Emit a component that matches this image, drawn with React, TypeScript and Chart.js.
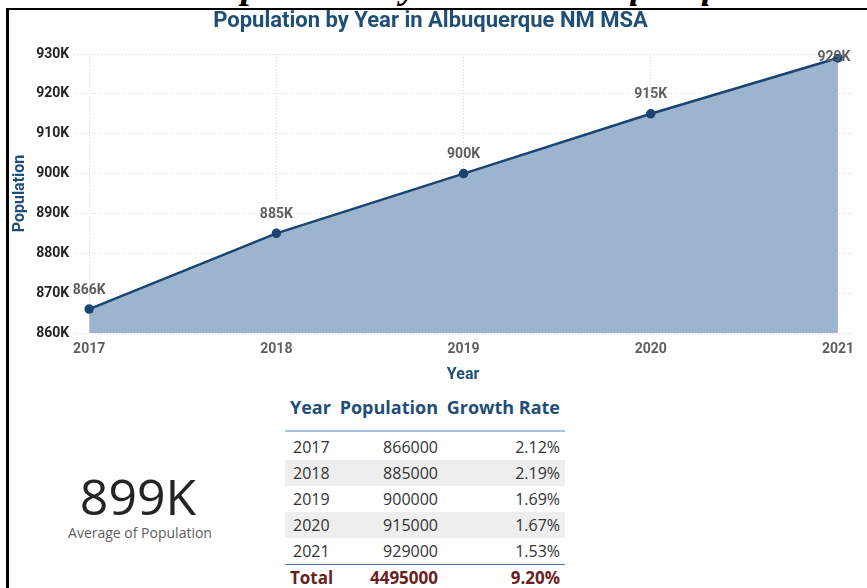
import React, { useEffect, useRef } from "react";
import { Chart, registerables } from "chart.js";

Chart.register(...registerables);

const years = [2017, 2018, 2019, 2020, 2021];
const population = [866000, 885000, 900000, 915000, 929000];
const pointLabels = ["866K", "885K", "900K", "915K", "929K"];
const populationText = ["866000", "885000", "900000", "915000", "929000"];
const growthRates = ["2.12%", "2.19%", "1.69%", "1.67%", "1.53%"];
const totalPopulation = "4495000";
const totalGrowth = "9.20%";
const averageValue = "899K";
const averageLabel = "Average of Population";
const tableHeaders = ["Year", "Population", "Growth Rate"];
const chartTitle = "Population by Year in Albuquerque NM MSA";
const pageTitle = "Population by Year in Albuquerque";

const BLUE = "#1f4e79";
const LINE = "#1a4472";
const FILL = "#9db4cf";

const dataLabels = {
  id: "dataLabels",
  afterDatasetsDraw(chart: any) {
    const ctx = chart.ctx;
    const meta = chart.getDatasetMeta(0);
    const top = chart.chartArea.top;
    ctx.save();
    ctx.font = "bold 14px Roboto";
    ctx.fillStyle = "#5f5f5f";
    ctx.textAlign = "center";
    ctx.textBaseline = "middle";
    meta.data.forEach((pt: any, i: number) => {
      const y = Math.max(pt.y - 19, top + 3);
      ctx.fillText(pointLabels[i], pt.x - (i === years.length - 1 ? 4 : 0), y);
    });
    ctx.restore();
  },
};

function PopChart() {
  const ref = useRef<HTMLCanvasElement>(null);
  useEffect(() => {
    if (!ref.current) return;
    const chart = new Chart(ref.current, {
      type: "line",
      data: {
        datasets: [
          {
            data: years.map((y, i) => ({ x: y, y: population[i] })),
            borderColor: LINE,
            borderWidth: 2.5,
            backgroundColor: FILL,
            fill: "start",
            pointRadius: 3.5,
            pointBackgroundColor: LINE,
            pointBorderColor: LINE,
            tension: 0,
          },
        ],
      },
      options: {
        animation: false,
        responsive: false,
        layout: { padding: { left: 0, right: 15, top: 0, bottom: 0 } },
        plugins: {
          legend: { display: false },
          tooltip: { enabled: false },
          title: {
            display: true,
            text: chartTitle,
            color: BLUE,
            font: { family: "Roboto", size: 22, weight: "bold", lineHeight: 1 },
            padding: { top: 0, bottom: 22 },
          },
        },
        scales: {
          x: {
            type: "linear",
            min: 2016.92,
            max: 2021.075,
            afterBuildTicks: (axis: any) => {
              axis.ticks = years.map((v) => ({ value: v }));
            },
            ticks: {
              callback: (v: any) => String(v),
              color: "#5f5f5f",
              font: { family: "Roboto", size: 14, weight: "bold" },
              padding: 8,
              maxRotation: 0,
              autoSkip: false,
            },
            grid: { color: "#d6d6d6", drawTicks: false, lineWidth: 1 },
            border: { display: false, dash: [1, 2] },
            title: {
              display: true,
              text: "Year",
              color: BLUE,
              font: { family: "Roboto", size: 16, weight: "bold" },
              padding: { top: 0, bottom: 1 },
            },
          },
          y: {
            min: 860000,
            max: 930000,
            ticks: {
              stepSize: 10000,
              callback: (v: any) => Math.round(v / 1000) + "K",
              color: "#252423",
              font: { family: "Roboto", size: 14, weight: "bold" },
              padding: 5,
            },
            grid: { color: "#d6d6d6", drawTicks: false, lineWidth: 1 },
            border: { display: false, dash: [1, 2] },
            title: {
              display: true,
              text: "Population",
              color: BLUE,
              font: { family: "Roboto", size: 16, weight: "bold" },
              padding: { top: 1, bottom: 2 },
            },
          },
        },
      } as any,
      plugins: [dataLabels],
    });
    return () => chart.destroy();
  }, []);
  return (
    <canvas
      ref={ref}
      width={858}
      height={376}
      style={{ position: "absolute", left: 9, top: 10, width: 858, height: 376 }}
    />
  );
}

const cellFont = "'Open Sans', 'Noto Sans', sans-serif";

export default function App() {
  const rowTop0 = 434;
  const rowH = 26;
  return (
    <div
      style={{
        position: "fixed",
        left: 0,
        top: 0,
        width: 867,
        height: 588,
        background: "#fff",
        overflow: "hidden",
      }}
    >
      <svg
        width={867}
        height={8}
        style={{ position: "absolute", left: 0, top: 0, overflow: "hidden" }}
      >
        <text
          x={199}
          y={-2}
          fontFamily="'Liberation Serif', serif"
          fontStyle="italic"
          fontWeight="bold"
          fontSize={38}
          fill="#000"
        >
          {pageTitle}
        </text>
      </svg>
      <div
        style={{
          position: "absolute",
          left: 6,
          top: 8,
          width: 900,
          height: 600,
          borderTop: "2px solid #000",
          borderLeft: "3px solid #000",
          boxSizing: "border-box",
        }}
      />
      <PopChart />

      {/* table */}
      <div style={{ position: "absolute", left: 0, top: 0, fontFamily: cellFont }}>
        <div style={{ position: "absolute", left: 290, top: 395, fontSize: 18, fontWeight: "bold", color: BLUE, whiteSpace: "nowrap" }}>
          {tableHeaders[0]}
        </div>
        <div style={{ position: "absolute", left: 298, width: 140, top: 395, textAlign: "right", fontSize: 18, fontWeight: "bold", color: BLUE, whiteSpace: "nowrap" }}>
          {tableHeaders[1]}
        </div>
        <div style={{ position: "absolute", left: 400, width: 160, top: 395, textAlign: "right", fontSize: 18, fontWeight: "bold", color: BLUE, whiteSpace: "nowrap" }}>
          {tableHeaders[2]}
        </div>
        <div style={{ position: "absolute", left: 285, top: 430, width: 280, height: 2, background: "#a7c3df" }} />
        {years.map((y, i) => (
          <div
            key={y}
            style={{
              position: "absolute",
              left: 285,
              top: rowTop0 + i * rowH,
              width: 280,
              height: rowH,
              background: i % 2 === 1 ? "#eeeeee" : "transparent",
              fontSize: 16,
              color: "#333",
              lineHeight: rowH + "px",
            }}
          >
            <span style={{ position: "absolute", left: 8 }}>{String(y)}</span>
            <span style={{ position: "absolute", right: 127 }}>{populationText[i]}</span>
            <span style={{ position: "absolute", right: 5 }}>{growthRates[i]}</span>
          </div>
        ))}
        <div style={{ position: "absolute", left: 285, top: 564, width: 280, height: 1, background: "#4a7aa8" }} />
        <div
          style={{
            position: "absolute",
            left: 285,
            top: 566,
            width: 280,
            height: 24,
            fontSize: 17,
            fontWeight: "bold",
            color: "#6b1f1f",
            lineHeight: "24px",
          }}
        >
          <span style={{ position: "absolute", left: 5 }}>Total</span>
          <span style={{ position: "absolute", right: 127 }}>{totalPopulation}</span>
          <span style={{ position: "absolute", right: 5 }}>{totalGrowth}</span>
        </div>
      </div>

      {/* KPI card */}
      <div
        style={{
          position: "absolute",
          left: 38,
          top: 466,
          width: 200,
          textAlign: "center",
          fontFamily: cellFont,
          fontSize: 50,
          color: "#252423",
          lineHeight: "60px",
        }}
      >
        {averageValue}
      </div>
      <div
        style={{
          position: "absolute",
          left: 40,
          top: 523,
          width: 200,
          textAlign: "center",
          fontFamily: cellFont,
          fontSize: 14,
          color: "#605e5c",
          lineHeight: "20px",
        }}
      >
        {averageLabel}
      </div>
    </div>
  );
}
